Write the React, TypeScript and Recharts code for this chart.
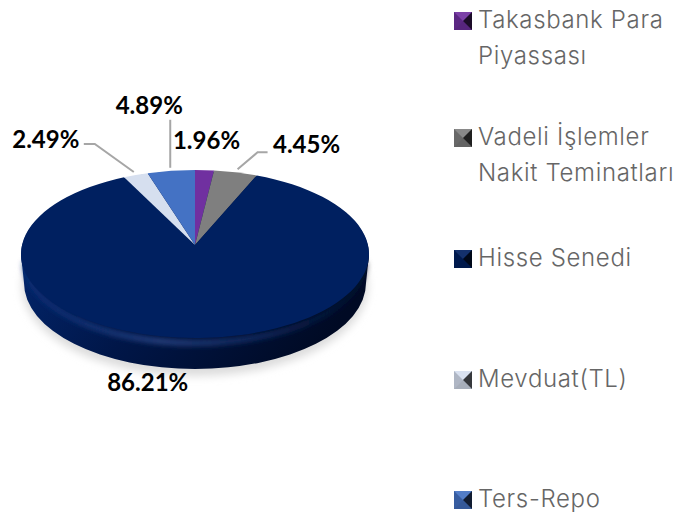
import { PieChart, Pie, Legend } from "recharts";

const categories = [
  "Takasbank Para Piyassası",
  "Vadeli İşlemler Nakit Teminatları",
  "Hisse Senedi",
  "Mevduat(TL)",
  "Ters-Repo",
];
const shares = [1.96, 4.45, 86.21, 2.49, 4.89];
const colors = ["#7030a0", "#7f7f7f", "#002060", "#d6dfef", "#4472c4"];

// wrapped legend text, one array per category
const legendLines = [
  ["Takasbank Para", "Piyassası"],
  ["Vadeli İşlemler", "Nakit Teminatları"],
  ["Hisse Senedi"],
  ["Mevduat(TL)"],
  ["Ters-Repo"],
];
const legendTops = [2, 119, 240, 361, 481];

// label offset from the rim point of each slice
const labelOffsets = [
  [2, -31],
  [71, -29],
  [-52, 44],
  [-90, -37],
  [-22, -66],
];
// leader polylines, also relative to the rim point
const leaders: (number[][] | null)[] = [
  null,
  [[2, -3], [22, -20], [32, -20]],
  null,
  [[-2, -3], [-41, -31], [-52, -31]],
  [[-1, -3], [-1, -51]],
];

const data = categories.map((name, i) => ({ name, value: shares[i], fill: colors[i] }));

const RY_RATIO = 84 / 174;
const ELLIPSE_SHIFT = 9;
const DEPTH = 29;
// the far side of the tilted pie looks narrower
const PERSPECTIVE = 0.11;

const rad = (deg: number) => (deg * Math.PI) / 180;

function rim(cx: number, cy: number, r: number, angle: number) {
  const fromTop = rad(90 - angle);
  const a = rad(angle) + (PERSPECTIVE / 2) * Math.sin(2 * fromTop);
  return {
    x: cx + r * Math.cos(a),
    y: cy + ELLIPSE_SHIFT - r * RY_RATIO * Math.sin(a),
  };
}

function TopSlice(props: any) {
  const { cx, cy, outerRadius: r, startAngle, endAngle, fill } = props;
  const a = rim(cx, cy, r, startAngle);
  const b = rim(cx, cy, r, endAngle);
  const large = Math.abs(startAngle - endAngle) > 180 ? 1 : 0;
  const ry = r * RY_RATIO;
  const d = `M${cx},${cy} L${a.x},${a.y} A${r},${ry} 0 ${large} 1 ${b.x},${b.y} Z`;
  return <path d={d} fill={fill} stroke="none" />;
}

// side wall and soft shadow, only the slice facing the viewer shows them
function WallSlice(props: any) {
  const { cx, cy, outerRadius: r, startAngle, endAngle } = props;
  if (Math.abs(startAngle - endAngle) < 180) return <g />;
  const ry = r * RY_RATIO;
  const left = rim(cx, cy, r, 180);
  const right = rim(cx, cy, r, 0);
  const lowY = left.y + DEPTH;
  const lowRx = r - 3;
  const wall = `M${left.x},${left.y} L${cx - lowRx},${lowY} A${lowRx},${ry + 2} 0 0 0 ${cx + lowRx},${lowY} L${right.x},${right.y} Z`;
  const bevel = `M${left.x + 4},${left.y + 8} A${r - 4},${ry - 3} 0 0 0 ${right.x - 4},${right.y + 8}`;
  return (
    <g>
      <ellipse cx={cx} cy={lowY + 3} rx={r - 1} ry={ry + 6} fill="#dcdcdc" filter="url(#soft)" />
      <path d={wall} fill="url(#wallFill)" />
      <ellipse cx={cx} cy={left.y + 1} rx={r} ry={ry} fill="url(#wallFill)" />
      <path d={bevel} fill="none" stroke="url(#bevelFill)" strokeWidth={6} filter="url(#softer)" />
    </g>
  );
}

function SliceLabel(props: any) {
  const { cx, cy, outerRadius: r, midAngle, index, value } = props;
  const p = rim(cx, cy, r, midAngle);
  const [dx, dy] = labelOffsets[index];
  const line = leaders[index];
  return (
    <g>
      {line && (
        <polyline
          points={line.map(([lx, ly]) => `${p.x + lx},${p.y + ly}`).join(" ")}
          fill="none"
          stroke="#a6a6a6"
          strokeWidth={2}
        />
      )}
      <text
        x={p.x + dx}
        y={p.y + dy}
        textAnchor="middle"
        dominantBaseline="central"
        fontFamily="Lato"
        fontWeight={700}
        fontSize={24}
        fill="#000000"
      >
        {value.toFixed(2)}%
      </text>
    </g>
  );
}

function PyramidIcon({ fill }: { fill: string }) {
  return (
    <svg width={18} height={18} style={{ position: "absolute", left: 0, top: 10 }}>
      <rect width={18} height={18} fill={fill} />
      <polygon points="0,0 18,0 9,9" fill="#ffffff" opacity={0.08} />
      <polygon points="0,0 0,18 9,9" fill="#000000" opacity={0.18} />
      <polygon points="0,18 18,18 9,9" fill="#000000" opacity={0.22} />
      <polygon points="18,0 18,18 9,9" fill="#000000" opacity={0.75} />
    </svg>
  );
}

function LegendBlock() {
  return (
    <div style={{ position: "relative", width: 221, height: 516 }}>
      {categories.map((name, i) => (
        <div key={name} style={{ position: "absolute", left: 0, top: legendTops[i] }}>
          <PyramidIcon fill={colors[i]} />
          <div
            style={{
              marginLeft: 24,
              fontFamily: "Inter",
              fontWeight: 300,
              fontSize: 24,
              letterSpacing: 0.65,
              lineHeight: "36px",
              color: "#666666",
              whiteSpace: "nowrap",
            }}
          >
            {legendLines[i].map((t) => (
              <div key={t}>{t}</div>
            ))}
          </div>
        </div>
      ))}
    </div>
  );
}

export default function App() {
  return (
    <div style={{ position: "absolute", left: 0, top: 0, width: 675, height: 516, background: "#fff", overflow: "hidden" }}>
      <PieChart width={675} height={516} margin={{ top: 0, right: 0, bottom: 0, left: 0 }}>
        <defs>
          <linearGradient id="wallFill" x1="0" y1="0" x2="1" y2="0.25">
            <stop offset="0%" stopColor="#03266c" />
            <stop offset="45%" stopColor="#001648" />
            <stop offset="100%" stopColor="#000a24" />
          </linearGradient>
          <linearGradient id="bevelFill" x1="0" y1="0" x2="1" y2="0">
            <stop offset="0%" stopColor="#0a2f78" stopOpacity={0.6} />
            <stop offset="40%" stopColor="#2a4585" stopOpacity={0.85} />
            <stop offset="70%" stopColor="#14306c" stopOpacity={0.7} />
            <stop offset="100%" stopColor="#00102f" stopOpacity={0.5} />
          </linearGradient>
          <filter id="soft" x="-10%" y="-10%" width="120%" height="120%">
            <feGaussianBlur stdDeviation="4" />
          </filter>
          <filter id="softer" x="-5%" y="-10%" width="110%" height="120%">
            <feGaussianBlur stdDeviation="2.5" />
          </filter>
        </defs>
        <Pie
          data={data}
          dataKey="value"
          nameKey="name"
          cx={195}
          cy={245}
          outerRadius={174}
          startAngle={90}
          endAngle={-270}
          legendType="none"
          shape={WallSlice}
          label={false}
          labelLine={false}
          isAnimationActive={false}
        />
        <Pie
          data={data}
          dataKey="value"
          nameKey="name"
          cx={195}
          cy={245}
          outerRadius={174}
          startAngle={90}
          endAngle={-270}
          shape={TopSlice}
          label={SliceLabel}
          labelLine={false}
          isAnimationActive={false}
        />
        <Legend
          layout="vertical"
          align="right"
          verticalAlign="top"
          content={LegendBlock}
          wrapperStyle={{ left: 454, top: 0, width: 221 }}
        />
      </PieChart>
    </div>
  );
}
